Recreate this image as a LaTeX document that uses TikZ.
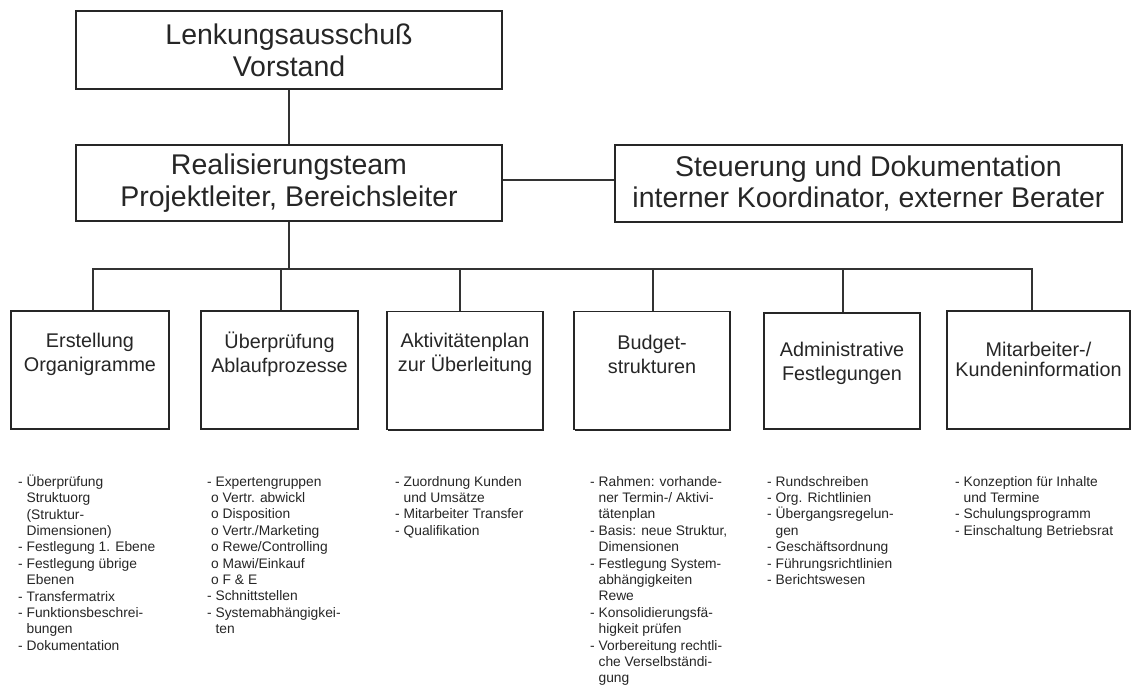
\documentclass[tikz,border=0pt]{standalone}
\usepackage{fontspec}
\setmainfont{Liberation Sans}
\usetikzlibrary{shadows}
% indent of continuation lines: width of a leading "- "
\newcommand\hg{\hphantom{- }}
\begin{document}
\begin{tikzpicture}[x=1pt,y=-1pt,
  box/.style={draw=black!85, line width=1.3pt, fill=white, inner sep=0pt,
    drop shadow={shadow xshift=1.3pt, shadow yshift=-1.3pt, fill=black!85, opacity=1}},
  big/.style={font=\fontsize{28.5}{32}\selectfont, align=center, text=black!85},
  mid/.style={font=\fontsize{19.8}{24}\selectfont, align=center, text=black!85, inner sep=0pt},
  lst/.style={font=\fontsize{13.8}{16.4}\selectfont, align=left, anchor=north west,
    inner sep=0pt, text=black!85},
  link/.style={draw=black!80, line width=1.2pt}]
\useasboundingbox (0,0) rectangle (1141,692);
\fill[white] (0,0) rectangle (1141,692);

% upper levels
\node[box, big, minimum width=426pt, minimum height=78pt] (lenk) at (289,50)
  {Lenkungsausschuß\\Vorstand};
\node[box, big, minimum width=426pt, minimum height=76pt] (real) at (289,183)
  {Realisierungsteam\\Projektleiter, Bereichsleiter};
\node[box, big, minimum width=507pt, minimum height=77pt] (steu) at (868.5,183.5)
  {Steuerung und Dokumentation\\interner Koordinator, externer Berater};

% work packages
\node[box, minimum width=158pt, minimum height=118pt] (b1) at (90,370) {};
\node[box, minimum width=157pt, minimum height=118pt] (b2) at (279.5,370) {};
\node[box, minimum width=156pt, minimum height=118pt] (b3) at (465,370.5) {};
\node[box, minimum width=156pt, minimum height=118pt] (b4) at (652,370.5) {};
\node[box, minimum width=156pt, minimum height=116pt] (b5) at (842,371) {};
\node[box, minimum width=183pt, minimum height=118pt] (b6) at (1038.5,370) {};

\node[mid] (t1) at (90,354) {Erstellung\\Organigramme};
\node[mid] (t2) at (279.5,354) {Überprüfung\\Ablaufprozesse};
\node[mid] (t3) at (465,354) {Aktivitätenplan\\zur Überleitung};
\node[mid] (t4) at (652,354) {Budget-\\strukturen};
\node[mid] (t5) at (842,363) {Administrative\\Festlegungen};
\node[mid, font=\fontsize{19.8}{20}\selectfont] (t6) at (1038.5,359) {Mitarbeiter-/\\Kundeninformation};

% connectors
\draw[link] (lenk) -- (real);
\draw[link] ([yshift=3pt]real.east) -- ([yshift=3pt]real.east -| steu.west);
\coordinate (bus) at (289,269);
\coordinate (d1) at ([xshift=3pt]b1.north);
\coordinate (d2) at ([xshift=1.5pt]b2.north);
\coordinate (d3) at ([xshift=-5pt]b3.north);
\coordinate (d4) at ([xshift=1pt]b4.north);
\coordinate (d5) at ([xshift=1pt]b5.north);
\coordinate (d6) at ([xshift=-6.5pt]b6.north);
\draw[link] (real.south) -- (bus);
\draw[link] (d1) |- (bus) -| (d6);
\draw[link] (d2) -- (d2 |- bus);
\draw[link] (d3) -- (d3 |- bus);
\draw[link] (d4) -- (d4 |- bus);
\draw[link] (d5) -- (d5 |- bus);

% task lists
\node[lst] (l1) at (18,474.5) {\strut- Überprüfung\\
  \hg Struktuorg\\
  \hg (Struktur-\\
  \hg Dimensionen)\\
  - Festlegung 1. Ebene\\
  - Festlegung übrige\\
  \hg Ebenen\\
  - Transfermatrix\\
  - Funktionsbeschrei-\\
  \hg bungen\\
  - Dokumentation};
\node[lst] (l2) at (207,474.5) {\strut- Expertengruppen\\
  \hspace*{4pt}o Vertr. abwickl\\
  \hspace*{4pt}o Disposition\\
  \hspace*{4pt}o Vertr./Marketing\\
  \hspace*{4pt}o Rewe/Controlling\\
  \hspace*{4pt}o Mawi/Einkauf\\
  \hspace*{4pt}o F \& E\\
  - Schnittstellen\\
  - Systemabhängigkei-\\
  \hg ten};
\node[lst] (l3) at (395,474.5) {\strut- Zuordnung Kunden\\
  \hg und Umsätze\\
  - Mitarbeiter Transfer\\
  - Qualifikation};
\node[lst] (l4) at (590,474.5) {\strut- Rahmen: vorhande-\\
  \hg ner Termin-/ Aktivi-\\
  \hg tätenplan\\
  - Basis: neue Struktur,\\
  \hg Dimensionen\\
  - Festlegung System-\\
  \hg abhängigkeiten\\
  \hg Rewe\\
  - Konsolidierungsfä-\\
  \hg higkeit prüfen\\
  - Vorbereitung rechtli-\\
  \hg che Verselbständi-\\
  \hg gung};
\node[lst] (l5) at (767,474.5) {\strut- Rundschreiben\\
  - Org. Richtlinien\\
  - Übergangsregelun-\\
  \hg gen\\
  - Geschäftsordnung\\
  - Führungsrichtlinien\\
  - Berichtswesen};
\node[lst] (l6) at (955,474.5) {\strut- Konzeption für Inhalte\\
  \hg und Termine\\
  - Schulungsprogramm\\
  - Einschaltung Betriebsrat};
\end{tikzpicture}
\end{document}
